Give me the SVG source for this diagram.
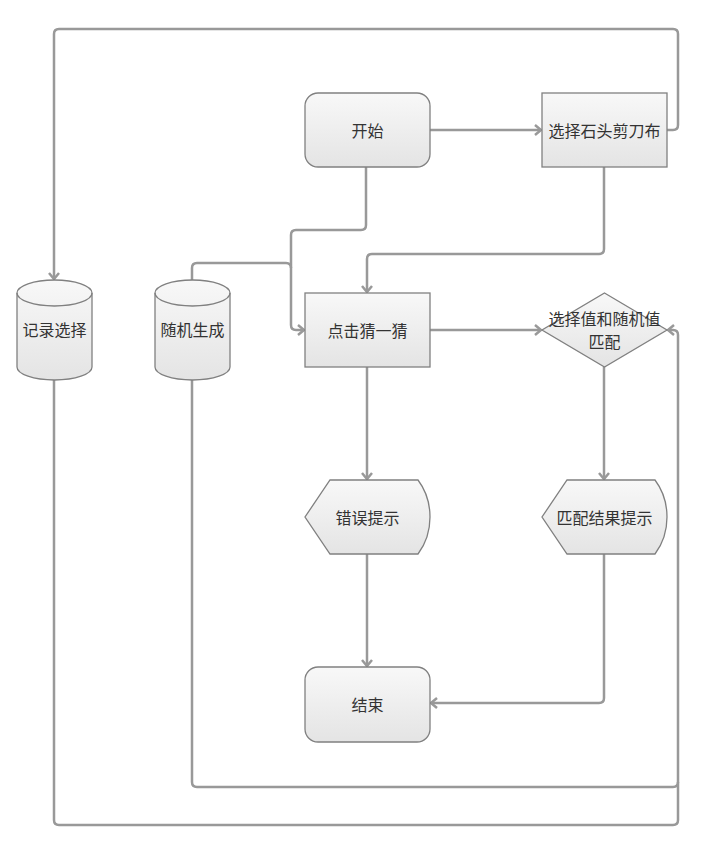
<svg xmlns="http://www.w3.org/2000/svg" width="727" height="864" viewBox="0 0 727 864">
<defs>
<linearGradient id="g" x1="0" y1="0" x2="0" y2="1">
<stop offset="0" stop-color="#f8f8f8"/>
<stop offset="1" stop-color="#e4e4e4"/>
</linearGradient>
<marker id="a" markerWidth="12" markerHeight="12" refX="10" refY="6" orient="auto" markerUnits="userSpaceOnUse">
<path d="M4,1 L10,6 L4,11" fill="none" stroke="#999" stroke-width="2.5" stroke-linejoin="miter"/>
</marker>
</defs>
<style>
.n{fill:url(#g);stroke:#808080;stroke-width:1.3}
.t{font-family:"Noto Sans CJK SC","Liberation Sans",sans-serif;font-size:16px;fill:#333;text-anchor:middle;dominant-baseline:central}
.c{fill:none;stroke:#999;stroke-width:2.5;stroke-linejoin:round}
.e{marker-end:url(#a)}
</style>
<rect width="727" height="864" fill="#fff"/>
<g id="connectors">
<path class="c e" d="M430,130 H541"/>
<path class="c e" d="M667,130 H673 Q678,130 678,125 V34 Q678,29 673,29 H59 Q54,29 54,34 V279"/>
<path class="c e" d="M604,167 V249 Q604,254 599,254 H372 Q367,254 367,259 V292"/>
<path class="c e" d="M366,167 V225 Q366,230 361,230 H296 Q291,230 291,235 V325 Q291,330 296,330 H304"/>
<path class="c" d="M192,280 V268 Q192,263 197,263 H286 Q291,263 291,268"/>
<path class="c e" d="M430,330 H541"/>
<path class="c e" d="M604,367 V479"/>
<path class="c e" d="M367,367 V479"/>
<path class="c e" d="M367,554 V666"/>
<path class="c e" d="M604,554 V698 Q604,703 599,703 H431"/>
<path class="c e" d="M192,380 V782 Q192,787 197,787 H673 Q678,787 678,782 V335 Q678,330 673,330 H668"/>
<path class="c" d="M54,380 V820 Q54,825 59,825 H673 Q678,825 678,820 V782"/>
</g>
<g id="start">
<rect class="n" x="305" y="93" width="125" height="74" rx="13"/>
<text class="t" x="367.5" y="130">开始</text>
</g>
<g id="choose">
<rect class="n" x="542" y="93" width="125" height="74"/>
<text class="t" x="604.5" y="130">选择石头剪刀布</text>
</g>
<g id="click">
<rect class="n" x="305" y="293" width="125" height="74"/>
<text class="t" x="367.5" y="330">点击猜一猜</text>
</g>
<g id="match">
<path class="n" d="M604.5,293 L667,330 L604.5,367 L542,330 Z"/>
<text class="t" x="604.5" y="318">选择值和随机值</text>
<text class="t" x="604.5" y="341">匹配</text>
</g>
<g id="error">
<path class="n" d="M330,480 H418 Q430,496 430,517 Q430,538 418,554 H330 L305,517 Z"/>
<text class="t" x="367.5" y="517">错误提示</text>
</g>
<g id="result">
<path class="n" d="M567,480 H655 Q667,496 667,517 Q667,538 655,554 H567 L542,517 Z"/>
<text class="t" x="604.5" y="517">匹配结果提示</text>
</g>
<g id="end">
<rect class="n" x="305" y="667" width="125" height="75" rx="13"/>
<text class="t" x="367.5" y="704">结束</text>
</g>
<g id="record">
<path class="n" d="M17,293 A37.5,13 0 0 1 92,293 V367 A37.5,13 0 0 1 17,367 Z"/>
<path fill="none" stroke="#808080" stroke-width="1.3" d="M17,293 A37.5,13 0 0 0 92,293"/>
<text class="t" x="54.5" y="329">记录选择</text>
</g>
<g id="random">
<path class="n" d="M155,293 A37.5,13 0 0 1 230,293 V367 A37.5,13 0 0 1 155,367 Z"/>
<path fill="none" stroke="#808080" stroke-width="1.3" d="M155,293 A37.5,13 0 0 0 230,293"/>
<text class="t" x="192.5" y="329">随机生成</text>
</g>
</svg>
